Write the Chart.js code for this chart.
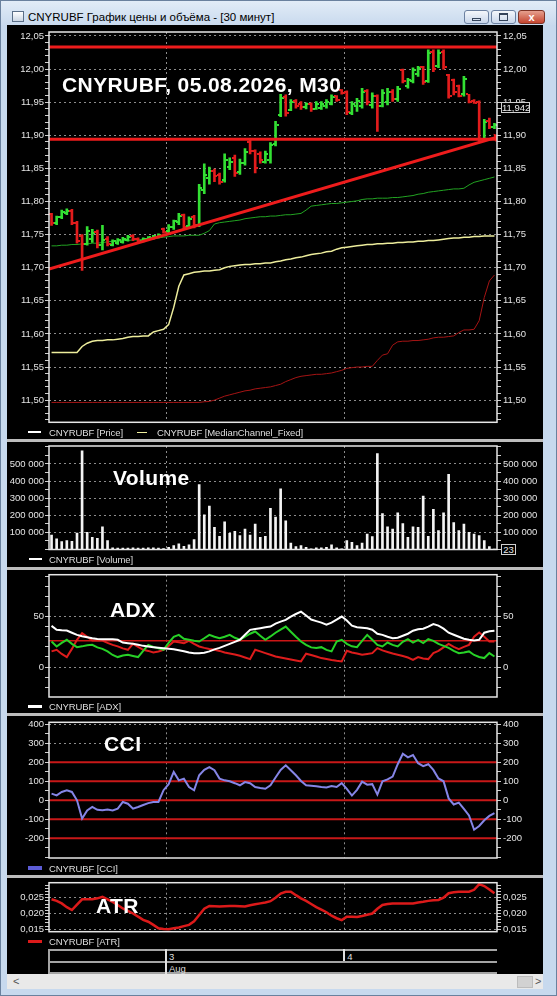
<!DOCTYPE html>
<html>
<head>
<meta charset="utf-8">
<script src="https://cdn.jsdelivr.net/npm/chart.js"></script>
<style>
  html, body { margin: 0; padding: 0; background: #fff; }
  #win { position: relative; width: 557px; height: 996px; overflow: hidden;
         background: #c7d9ee; box-shadow: inset 0 0 0 1px #6a819e;
         font-family: 'Liberation Sans', Arial, sans-serif; }
  #titlebar { position: absolute; left: 1px; top: 1px; width: 555px; height: 24px;
              background: linear-gradient(#e2ecf7, #c9daee); }
  #icon { position: absolute; left: 11px; top: 10px; width: 10px; height: 9px;
          border: 1px solid #5b6f88; background: linear-gradient(#ffffff, #cbd6e4); }
  #title { position: absolute; left: 27px; top: 9px; font-size: 11.5px; color: #000; line-height: 14px; white-space: nowrap; }
  .btn { position: absolute; top: 9px; height: 12px; border: 1px solid #6b80a0; border-radius: 3px;
         background: linear-gradient(#f4f7fb, #c8d6ea); }
  .btn.close { border-color: #7d3224; background: linear-gradient(#e6a08e, #c5452f); color: #fff;
               font: bold 11px/12px 'Liberation Sans', Arial, sans-serif; text-align: center; }
  .glyph { position: absolute; border: 1px solid #33435a; }
  #content { position: absolute; left: 7px; top: 25px; width: 536px; height: 949px; background: #000; }
  .sep { position: absolute; left: 7px; width: 536px; height: 3px; background: #bcbcbc; }
  .lg { position: absolute; font-size: 9.5px; line-height: 11px; color: #dedede; white-space: nowrap; letter-spacing: -0.1px; }
  .mk { position: absolute; }
  .big { position: absolute; font-weight: bold; font-size: 21px; line-height: 21px; color: #fff; letter-spacing: 0.4px; white-space: nowrap; }
  .box { position: absolute; border: 1px solid #cfcfcf; background: #000; color: #ececec;
         font-size: 9.5px; line-height: 9px; text-align: center; }
  .tl { position: absolute; background: #a4a4a4; }
  #scroll { position: absolute; left: 7px; top: 974px; width: 536px; height: 15px; background: #e9e9e9; }
</style>
</head>
<body>
<div id="win">
  <div id="titlebar">
    <div id="icon"></div>
    <div id="title">CNYRUBF График цены и объёма - [30 минут]</div>
    <div class="btn" style="left:463px;width:23px"><div class="glyph" style="left:7px;top:7px;width:7px;height:1px"></div></div>
    <div class="btn" style="left:490px;width:23px"><div class="glyph" style="left:7px;top:2px;width:7px;height:5px;border-top-width:2px"></div></div>
    <div class="btn close" style="left:517px;width:25px">x</div>
  </div>
  <div id="content"></div>
  <div id="scroll">
    <div style="position:absolute;left:6px;top:1px;font-size:11px;color:#555">&lt;</div>
    <div style="position:absolute;left:510px;top:2px;width:14px;height:10px;background:#d2d2d2;border:1px solid #bcbcbc"></div>
    <div style="position:absolute;left:528px;top:1px;font-size:11px;color:#555">&gt;</div>
  </div>
</div>
<script>
// ---- data (88 half-hour bars) ----
const openP = [11.781, 11.767, 11.776, 11.783, 11.786, 11.768, 11.748, 11.736, 11.744, 11.754,
  11.734, 11.744, 11.735, 11.737, 11.739, 11.742, 11.748, 11.744, 11.741, 11.743,
  11.745, 11.747, 11.758, 11.755, 11.762, 11.769, 11.779, 11.763, 11.776, 11.764,
  11.818, 11.836, 11.846, 11.840, 11.832, 11.852, 11.866, 11.845, 11.858, 11.890,
  11.876, 11.872, 11.860, 11.862, 11.887, 11.930, 11.958, 11.938, 11.952, 11.947,
  11.942, 11.947, 11.940, 11.941, 11.944, 11.948, 11.959, 11.968, 11.966, 11.934,
  11.944, 11.944, 11.967, 11.946, 11.960, 11.944, 11.950, 11.966, 11.955, 11.999,
  11.975, 11.982, 11.992, 12.003, 11.982, 12.026, 12.004, 12.026, 11.991, 11.984,
  11.975, 11.962, 11.962, 11.952, 11.950, 11.895, 11.921, 11.912];
const highP = [11.782, 11.778, 11.787, 11.789, 11.788, 11.770, 11.750, 11.762, 11.758, 11.757,
  11.764, 11.747, 11.742, 11.744, 11.746, 11.749, 11.750, 11.745, 11.745, 11.747,
  11.749, 11.751, 11.760, 11.765, 11.772, 11.782, 11.781, 11.777, 11.779, 11.826,
  11.857, 11.852, 11.849, 11.843, 11.872, 11.866, 11.870, 11.864, 11.880, 11.893,
  11.878, 11.875, 11.876, 11.889, 11.921, 11.962, 11.961, 11.954, 11.954, 11.951,
  11.949, 11.949, 11.951, 11.951, 11.954, 11.961, 11.960, 11.969, 11.967, 11.951,
  11.956, 11.971, 11.969, 11.964, 11.961, 11.969, 11.971, 11.969, 11.974, 12.000,
  11.986, 12.002, 12.004, 12.004, 12.029, 12.029, 12.029, 12.029, 11.992, 11.985,
  11.976, 11.989, 11.962, 11.954, 11.952, 11.924, 11.926, 11.918];
const lowP = [11.764, 11.765, 11.774, 11.780, 11.765, 11.737, 11.696, 11.734, 11.738, 11.730,
  11.727, 11.733, 11.733, 11.735, 11.737, 11.740, 11.741, 11.738, 11.739, 11.741,
  11.743, 11.745, 11.752, 11.752, 11.758, 11.765, 11.758, 11.760, 11.760, 11.762,
  11.812, 11.826, 11.830, 11.826, 11.829, 11.848, 11.838, 11.841, 11.855, 11.872,
  11.843, 11.858, 11.858, 11.858, 11.884, 11.928, 11.929, 11.937, 11.941, 11.939,
  11.940, 11.936, 11.939, 11.939, 11.941, 11.946, 11.951, 11.962, 11.931, 11.931,
  11.936, 11.941, 11.946, 11.941, 11.906, 11.943, 11.946, 11.951, 11.951, 11.979,
  11.971, 11.979, 11.989, 11.977, 11.980, 11.996, 12.002, 12.000, 11.956, 11.961,
  11.958, 11.959, 11.949, 11.948, 11.891, 11.894, 11.910, 11.910];
const closeP = [11.767, 11.776, 11.784, 11.786, 11.768, 11.740, 11.736, 11.756, 11.752, 11.734,
  11.742, 11.736, 11.740, 11.742, 11.744, 11.747, 11.743, 11.740, 11.744, 11.746,
  11.748, 11.750, 11.754, 11.762, 11.770, 11.778, 11.762, 11.774, 11.764, 11.820,
  11.840, 11.846, 11.838, 11.830, 11.862, 11.860, 11.843, 11.858, 11.875, 11.876,
  11.850, 11.862, 11.872, 11.885, 11.916, 11.957, 11.934, 11.950, 11.944, 11.942,
  11.947, 11.939, 11.948, 11.948, 11.951, 11.958, 11.953, 11.964, 11.935, 11.948,
  11.952, 11.966, 11.950, 11.960, 11.944, 11.964, 11.966, 11.955, 11.970, 11.982,
  11.984, 11.998, 12.001, 11.980, 12.024, 12.000, 12.024, 12.003, 11.960, 11.965,
  11.960, 11.985, 11.951, 11.949, 11.895, 11.920, 11.913, 11.916];

const medianUpper = [11.733, 11.733, 11.734, 11.734, 11.735, 11.735, 11.736, 11.736, 11.737, 11.737,
  11.738, 11.739, 11.740, 11.740, 11.741, 11.741, 11.742, 11.742, 11.743, 11.744,
  11.744, 11.745, 11.746, 11.747, 11.748, 11.748, 11.748, 11.749, 11.749, 11.749,
  11.752, 11.756, 11.766, 11.768, 11.769, 11.770, 11.771, 11.772, 11.774, 11.775,
  11.776, 11.777, 11.777, 11.778, 11.778, 11.779, 11.780, 11.780, 11.781, 11.782,
  11.787, 11.793, 11.794, 11.795, 11.796, 11.797, 11.797, 11.798, 11.799, 11.800,
  11.801, 11.803, 11.804, 11.804, 11.805, 11.805, 11.805, 11.806, 11.806, 11.807,
  11.808, 11.809, 11.811, 11.812, 11.814, 11.815, 11.816, 11.817, 11.818, 11.819,
  11.819, 11.820, 11.825, 11.829, 11.831, 11.833, 11.835, 11.837];
const medianMid = [11.572, 11.572, 11.572, 11.572, 11.572, 11.572, 11.581, 11.586, 11.589, 11.590,
  11.590, 11.591, 11.591, 11.592, 11.593, 11.595, 11.596, 11.596, 11.597, 11.597,
  11.603, 11.605, 11.607, 11.614, 11.640, 11.672, 11.689, 11.691, 11.693, 11.694,
  11.695, 11.695, 11.696, 11.697, 11.700, 11.702, 11.703, 11.704, 11.705, 11.705,
  11.706, 11.706, 11.707, 11.707, 11.709, 11.710, 11.712, 11.713, 11.715, 11.716,
  11.718, 11.720, 11.721, 11.722, 11.724, 11.725, 11.728, 11.730, 11.731, 11.732,
  11.733, 11.734, 11.735, 11.735, 11.736, 11.736, 11.737, 11.737, 11.738, 11.738,
  11.739, 11.739, 11.740, 11.740, 11.741, 11.741, 11.742, 11.743, 11.744, 11.745,
  11.745, 11.746, 11.746, 11.747, 11.747, 11.748, 11.748, 11.748];
const medianLower = [11.4965, 11.4965, 11.4965, 11.4965, 11.4965, 11.4965, 11.4965, 11.4965, 11.4965, 11.4965,
  11.4965, 11.4965, 11.4965, 11.4965, 11.4965, 11.4965, 11.4965, 11.4965, 11.4965, 11.4965,
  11.4965, 11.4965, 11.4965, 11.4965, 11.4965, 11.4965, 11.4965, 11.4965, 11.4965, 11.4965,
  11.4975, 11.498, 11.500, 11.503, 11.506, 11.508, 11.510, 11.512, 11.514, 11.515,
  11.517, 11.518, 11.519, 11.520, 11.522, 11.524, 11.528, 11.531, 11.534, 11.536,
  11.537, 11.538, 11.539, 11.539, 11.540, 11.541, 11.543, 11.545, 11.548, 11.549,
  11.550, 11.550, 11.551, 11.551, 11.560, 11.568, 11.570, 11.583, 11.588, 11.589,
  11.589, 11.590, 11.590, 11.591, 11.592, 11.594, 11.595, 11.595, 11.596, 11.597,
  11.602, 11.606, 11.606, 11.607, 11.620, 11.655, 11.680, 11.689];

const volume = [85000, 63000, 46000, 52000, 48000, 96000, 577000, 100000, 71000, 65000,
  133000, 52000, 10000, 8000, 8000, 8000, 10000, 8000, 8000, 10000,
  10000, 8000, 5000, 13000, 23000, 33000, 19000, 27000, 58000, 379000,
  202000, 254000, 129000, 77000, 162000, 94000, 106000, 81000, 119000, 85000,
  148000, 71000, 77000, 240000, 190000, 354000, 167000, 37000, 17000, 23000,
  13000, 4000, 10000, 10000, 13000, 27000, 10000, 4000, 52000, 42000,
  23000, 37000, 90000, 75000, 561000, 210000, 133000, 119000, 215000, 152000,
  71000, 133000, 129000, 312000, 77000, 235000, 110000, 215000, 440000, 158000,
  110000, 148000, 100000, 90000, 81000, 52000, 17000, 23];

const adx = [40.8, 37, 36.5, 36.2, 34, 31.9, 30.5, 29.6, 28.5, 27.8,
  27.6, 27.6, 27.6, 27, 24.3, 23.6, 23, 22, 21, 20.3,
  19.7, 19.2, 18.6, 18.1, 17.6, 16.6, 15.6, 14.5, 13.8, 13.8,
  14.2, 15.5, 17.5, 19, 21, 23, 25, 27, 32, 36.8,
  37.6, 38.5, 39.3, 40.1, 43, 45, 46.7, 50, 52.5, 54.9,
  51, 47, 45.5, 44, 42, 44, 47, 50, 46, 41,
  39.5, 39, 38.5, 37, 33, 31.9, 30, 28.6, 29, 31,
  33, 36, 37.5, 38, 40, 42.5, 41, 38, 34, 32,
  30, 28, 27, 26.3, 27, 34, 35.5, 35.9];
const plusDI = [25.3, 20.4, 24, 27, 23, 19.7, 20.5, 21.5, 22, 19.5,
  18, 15.5, 12, 9.9, 11.5, 12.2, 11, 9.9, 16, 22,
  20, 18.5, 17.1, 24, 30, 31.9, 28, 27, 26, 25.3,
  28.5, 31.9, 30, 28.6, 30, 31.9, 29, 27, 30, 33,
  35.2, 31, 27, 30.3, 34, 37, 40.1, 35, 30, 25.3,
  22, 19.5, 18.8, 19.7, 17, 15.5, 25.3, 27, 23, 20.5,
  19.7, 26, 31.9, 27, 22, 20.4, 24.3, 22, 20.4, 25,
  27.6, 24.3, 27, 23.7, 27.6, 26, 23, 21, 19, 16,
  13.8, 14.5, 15.5, 12, 10, 8.9, 13.8, 10.5];
const minusDI = [15.5, 17.1, 13, 9.9, 18, 27, 33.6, 30, 26.3, 26.3,
  26.3, 24, 22, 20.5, 18.5, 17.1, 23, 20, 17.1, 16,
  14.5, 15.5, 17, 21, 25.3, 24.5, 23.7, 26, 23, 20.4,
  19, 17.8, 17.1, 16, 14.5, 13.5, 12.5, 11.2, 9.5, 7.9,
  17.1, 15.5, 13.8, 12.2, 10.5, 9.5, 8.5, 7.5, 6.5, 5.6,
  13.2, 12, 10.5, 8.9, 8, 7, 6.2, 5.6, 16.1, 14.5,
  13.5, 12.2, 13, 13.8, 18.8, 16.5, 15, 13.5, 12.2, 11,
  9.5, 7.2, 9.9, 8.5, 7.9, 13.8, 16, 19.5, 23, 20,
  17.8, 20, 22, 30, 34.2, 30, 25.3, 25.3];

const cci = [35, 26, 44, 53, 44, 0, -96, -53, -35, -50,
  -52, -49, -53, -44, -9, -18, -44, -35, -25, -15,
  -9, -9, 53, 85, 149, 105, 114, 70, 53, 132,
  160, 175, 158, 114, 105, 100, 90, 79, 96, 90,
  70, 65, 61, 79, 120, 160, 184, 158, 132, 102,
  79, 77, 74, 70, 67, 75, 70, 90, 60, 25,
  55, 98, 82, 85, 30, 100, 110, 125, 190, 245,
  226, 238, 195, 180, 190, 160, 115, 100, 10, -22,
  -12, -45, -80, -155, -135, -105, -82, -67];

const atr = [0.0245, 0.0240, 0.0232, 0.0220, 0.0211, 0.0228, 0.0245, 0.0245, 0.0245, 0.0248,
  0.0253, 0.0245, 0.0237, 0.0227, 0.0216, 0.0208, 0.0200, 0.0190, 0.0180, 0.0174,
  0.0164, 0.0153, 0.0151, 0.0150, 0.0153, 0.0156, 0.0160, 0.0164, 0.0175, 0.0195,
  0.0215, 0.0224, 0.0223, 0.0222, 0.0223, 0.0224, 0.0224, 0.0223, 0.0222, 0.0226,
  0.0229, 0.0232, 0.0235, 0.0239, 0.0250, 0.0263, 0.0269, 0.0269, 0.0258, 0.0248,
  0.0240, 0.0230, 0.0220, 0.0212, 0.0204, 0.0193, 0.0185, 0.0179, 0.0190, 0.0190,
  0.0189, 0.0192, 0.0196, 0.0200, 0.0215, 0.0227, 0.0230, 0.0232, 0.0232, 0.0232,
  0.0232, 0.0232, 0.0235, 0.0237, 0.0240, 0.0242, 0.0243, 0.0250, 0.0264, 0.0267,
  0.0269, 0.0269, 0.0269, 0.0275, 0.0293, 0.0287, 0.0276, 0.0264];

// drawn levels and tick labels
const resistance = 12.0335, support = 11.894;
const trendFrom = 11.698, trendTo = 11.897;
const adxLevel = 26;
const cciLevels = [200, 100, 0, -100, -200];
const priceTicks = [11.50, 11.55, 11.60, 11.65, 11.70, 11.75, 11.80, 11.85, 11.90, 11.95, 12.00, 12.05];
const volumeTicks = [100000, 200000, 300000, 400000, 500000];
const adxTicks = [0, 50];
const cciTicks = [-200, -100, 0, 100, 200, 300, 400];
const atrTicks = [0.015, 0.020, 0.025];
const dayBreaks = [22.5, 57.5];
const dayLabels = ['3', '4'];
const monthLabel = 'Aug';
const lastPrice = 11.942, lastVolume = 23;

// ---- layout ----
const W = 557, PLOT_LEFT = 49, PLOT_RIGHT = 497;
const FONT = "'Liberation Sans', Arial, sans-serif";
const UP = '#33e033', DOWN = '#e21c1c';
const n = closeP.length;
const idx = closeP.map((_, i) => i);
const pts = arr => arr.map((v, i) => ({ x: i, y: v }));
const flat = v => [{ x: -0.5, y: v }, { x: n - 0.5, y: v }];
const win = document.getElementById('win');

function tickValues(min, max, step) {
  const out = [];
  for (let k = Math.ceil(min / step - 1e-9); k * step <= max + 1e-9; k++) out.push(+(k * step).toFixed(6));
  return out;
}

function makeY(pos, p) {
  const isMajor = v => p.majors.some(m => Math.abs(m - v) < p.minor / 10);
  return {
    type: 'linear', position: pos, min: p.min, max: p.max,
    afterBuildTicks: s => { s.ticks = tickValues(p.min, p.max, p.minor).map(v => ({ value: v })); },
    afterFit: s => { s.width = pos === 'left' ? PLOT_LEFT : W - PLOT_RIGHT; },
    ticks: { autoSkip: false, color: '#e4e4e4', font: { family: FONT, size: 9.5 }, padding: pos === 'left' ? 1 : 2,
             callback: v => isMajor(v) ? p.fmt(v) : '' },
    grid: { drawOnChartArea: pos === 'left', tickLength: 4, tickColor: '#d0d0d0', lineWidth: 1,
            color: c => (c.tick && isMajor(c.tick.value)) ? '#8c8c8c' : 'rgba(0,0,0,0)' },
    border: { display: false, dash: [2, 3] }
  };
}

function makeX() {
  return {
    type: 'linear', min: -0.5, max: n - 0.5, offset: false,
    afterBuildTicks: s => { s.ticks = dayBreaks.map(v => ({ value: v })); },
    afterFit: s => { s.height = 0; },
    ticks: { display: false },
    grid: { offset: false, drawTicks: false, color: '#8c8c8c', lineWidth: 1 },
    border: { display: false, dash: [2, 3] }
  };
}

const framePlugin = {
  id: 'frame',
  afterDraw(chart) {
    const a = chart.chartArea, c = chart.ctx;
    c.save();
    c.strokeStyle = '#e6e6e6';
    c.lineWidth = 1.5;
    c.strokeRect(a.left, a.top, a.right - a.left, a.bottom - a.top);
    c.restore();
  }
};

// open / close ticks of the OHLC bars
const ohlcTicks = {
  id: 'ohlcTicks',
  afterDatasetDraw(chart, args) {
    if (!chart.data.datasets[args.index].ohlc) return;
    const xs = chart.scales.x, ys = chart.scales.y, c = chart.ctx, a = chart.chartArea;
    c.save();
    c.beginPath();
    c.rect(a.left, a.top, a.right - a.left, a.bottom - a.top);
    c.clip();
    idx.forEach(i => {
      const px = Math.round(xs.getPixelForValue(i));
      c.fillStyle = closeP[i] >= openP[i] ? UP : DOWN;
      c.fillRect(px - 3, Math.round(ys.getPixelForValue(openP[i])) - 1, 2, 2);
      c.fillRect(px + 1, Math.round(ys.getPixelForValue(closeP[i])) - 1, 2, 2);
    });
    c.restore();
  }
};

function panel(p) {
  const top = Math.floor(p.top - 10);
  const h = Math.ceil(p.bottom + 10) - top;
  const cv = document.createElement('canvas');
  cv.width = W; cv.height = h;
  cv.style.cssText = `position:absolute;left:0;top:${top}px;width:${W}px;height:${h}px`;
  win.appendChild(cv);
  const chart = new Chart(cv, {
    type: 'bar',
    data: { datasets: p.datasets },
    options: {
      responsive: false, animation: false, events: [], devicePixelRatio: 1,
      layout: { padding: { top: p.top - top, bottom: top + h - p.bottom, left: 0, right: 0 } },
      plugins: { legend: { display: false }, tooltip: { enabled: false } },
      scales: { x: makeX(), y: makeY('left', p), yR: makeY('right', p) }
    },
    plugins: [framePlugin, ohlcTicks]
  });
  chart.pageTop = top;
  return chart;
}

const line = (data, color, width, order, extra) => Object.assign({
  type: 'line', data, borderColor: color, borderWidth: width, pointRadius: 0, tension: 0, order
}, extra || {});

// separators between the panes
[438.5, 566.5, 712.5, 874.5].forEach(y => {
  const d = document.createElement('div');
  d.className = 'sep'; d.style.top = y + 'px';
  win.appendChild(d);
});

const priceChart = panel({
  top: 32, bottom: 422.3, min: 11.4665, max: 12.056, minor: 0.01, majors: priceTicks,
  fmt: v => v.toFixed(2).replace('.', ','),
  datasets: [
    line(flat(resistance), '#ee1c1c', 3, 0),
    line(flat(support), '#ee1c1c', 3, 0),
    line([{ x: -0.5, y: trendFrom }, { x: n - 0.5, y: trendTo }], '#ee1c1c', 3, 0,
         { pointRadius: [0, 5], pointStyle: 'triangle', rotation: 74, pointBackgroundColor: '#ee1c1c', pointBorderWidth: 0 }),
    { type: 'bar', ohlc: true, order: 1, barThickness: 2, borderWidth: 0,
      data: idx.map(i => ({ x: i, y: [lowP[i], highP[i]] })),
      backgroundColor: idx.map(i => closeP[i] >= openP[i] ? UP : DOWN) },
    line(pts(medianUpper), '#22a322', 1, 2),
    line(pts(medianMid), '#eded9c', 1.5, 2),
    line(pts(medianLower), '#a51414', 1, 2)
  ]
});

const volChart = panel({
  top: 446, bottom: 549.5, min: 0, max: 605000, minor: 50000, majors: volumeTicks,
  fmt: v => String(v).replace(/\B(?=(\d{3})+(?!\d))/g, ' '),
  datasets: [{ type: 'bar', data: pts(volume), backgroundColor: '#f4f4f4', barThickness: 2, borderWidth: 0 }]
});

panel({
  top: 574.7, bottom: 697, min: -29.6, max: 91.4, minor: 10, majors: adxTicks,
  fmt: v => String(v),
  datasets: [
    line(pts(adx), '#ffffff', 2, 0),
    line(pts(plusDI), '#27d127', 2, 1),
    line(pts(minusDI), '#dd1c1c', 2, 2),
    line(flat(adxLevel), '#cc1616', 1.5, 3)
  ]
});

panel({
  top: 722.3, bottom: 858, min: -303.7, max: 410.5, minor: 50, majors: cciTicks,
  fmt: v => String(v),
  datasets: [line(pts(cci), '#8585e6', 2, 0)].concat(cciLevels.map(l => line(flat(l), '#c81818', 2, 1)))
});

const atrChart = panel({
  top: 882.7, bottom: 931.7, min: 0.01424, max: 0.02975, minor: 0.001, majors: atrTicks,
  fmt: v => v.toFixed(3).replace('.', ','),
  datasets: [line(pts(atr), '#dc1a1a', 2.5, 0)]
});

// ---- html text: captions, legends, value boxes, time axis ----
function add(cls, css, text) {
  const d = document.createElement('div');
  d.className = cls; d.style.cssText = css;
  if (text !== undefined) d.textContent = text;
  win.appendChild(d);
  return d;
}

add('big', 'left:62px;top:74px', 'CNYRUBF, 05.08.2026, M30');
add('big', 'left:113px;top:467px', 'Volume');
add('big', 'left:110px;top:599px', 'ADX');
add('big', 'left:104px;top:733px', 'CCI');
add('big', 'left:96px;top:895px', 'ATR');

const legends = [
  { y: 432, mx: 28, mw: 13, mh: 2, color: '#ffffff', tx: 49, text: 'CNYRUBF [Price]' },
  { y: 432, mx: 137, mw: 10, mh: 1, color: '#eded9c', tx: 157, text: 'CNYRUBF [MedianChannel_Fixed]' },
  { y: 559, mx: 29, mw: 13, mh: 1.5, color: '#ffffff', tx: 49, text: 'CNYRUBF [Volume]' },
  { y: 706.5, mx: 28, mw: 14, mh: 3, color: '#ffffff', tx: 49, text: 'CNYRUBF [ADX]' },
  { y: 868, mx: 28, mw: 14, mh: 3.5, color: '#5c5cd6', tx: 49, text: 'CNYRUBF [CCI]' },
  { y: 941.5, mx: 28, mw: 14, mh: 3, color: '#dc1a1a', tx: 49, text: 'CNYRUBF [ATR]' }
];
legends.forEach(l => {
  add('mk', `left:${l.mx}px;top:${l.y - l.mh / 2}px;width:${l.mw}px;height:${l.mh}px;background:${l.color}`);
  add('lg', `left:${l.tx}px;top:${l.y - 5.5}px`, l.text);
});

// value boxes on the right axes (scale pixel + canvas offset on the page)
const py = priceChart.pageTop + priceChart.scales.yR.getPixelForValue(lastPrice);
add('box', `left:501px;top:${py - 5.5}px;width:27px;height:9px`, lastPrice.toFixed(3).replace('.', ','));
const vy = volChart.pageTop + volChart.scales.yR.getPixelForValue(lastVolume);
add('box', `left:501px;top:${vy - 5.5}px;width:13px;height:9px`, String(lastVolume));

// time axis under the ATR pane, positioned from the chart's own x scale
const xs = atrChart.scales.x;
const tRows = [950, 961.5, 973];
tRows.forEach(y => add('tl', `left:${xs.left}px;top:${y - 1}px;width:${xs.right - xs.left}px;height:2px`));
add('tl', `left:${xs.left - 1}px;top:949px;width:2px;height:25px`);
dayBreaks.forEach((b, k) => {
  const px = xs.getPixelForValue(b);
  const h = k === 0 ? 25 : 12;
  add('tl', `left:${px - 1}px;top:949px;width:2px;height:${h}px;background:#e0e0e0`);
  add('lg', `left:${px + 3}px;top:950.5px`, dayLabels[k]);
  if (k === 0) add('lg', `left:${px + 3}px;top:962.5px`, monthLabel);
});
</script>
</body>
</html>
